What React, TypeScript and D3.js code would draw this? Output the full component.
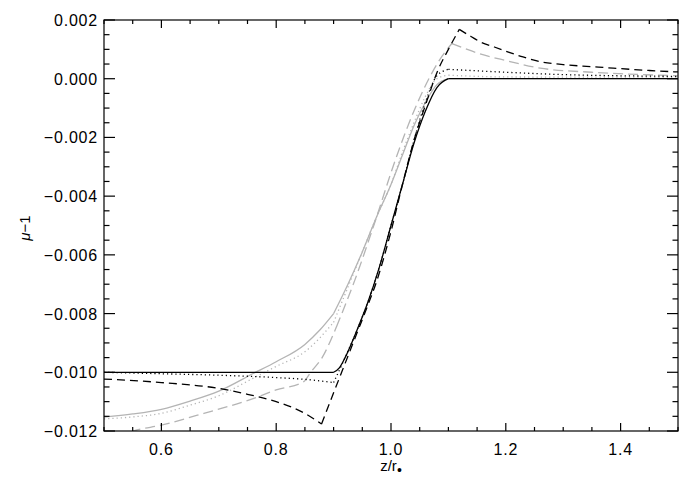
import React from 'react';
import * as d3 from 'd3';

// ---- data ----
const blackSolidX = [0.5, 0.7, 0.9, 0.91, 0.92, 0.94, 0.96, 0.98, 1.0, 1.02, 1.04, 1.06, 1.08, 1.1, 1.3, 1.5];
const blackSolidY = [-0.01, -0.01, -0.01, -0.00985, -0.0095, -0.0086, -0.0076, -0.0064, -0.005, -0.0036, -0.0022, -0.0011, -0.0003, 0.0, 0.0, 0.0];
const blackSolidKinks = [0.9, 1.1];

const blackDotX = [0.5, 0.6, 0.7, 0.8, 0.85, 0.9, 0.92, 0.94, 0.96, 0.98, 1.0, 1.02, 1.04, 1.06, 1.08, 1.1, 1.2, 1.3, 1.4, 1.5];
const blackDotY = [-0.01, -0.01005, -0.0101, -0.01018, -0.01024, -0.01035, -0.0095, -0.0086, -0.0076, -0.0064, -0.005, -0.0036, -0.0021, -0.0008, 0.0001, 0.00032, 0.00022, 0.00014, 0.0001, 0.00008];
const blackDotKinks = [0.9, 1.1];

const blackDashX = [0.5, 0.6, 0.7, 0.75, 0.8, 0.85, 0.879, 0.9, 0.914, 0.94, 0.96, 0.975, 1.0, 1.02, 1.04, 1.06, 1.082, 1.1, 1.119, 1.14, 1.155, 1.18, 1.2, 1.23, 1.26, 1.3, 1.35, 1.387, 1.45, 1.5];
const blackDashY = [-0.01023, -0.01035, -0.01055, -0.01075, -0.011, -0.0114, -0.01176, -0.0107, -0.01, -0.0087, -0.0077, -0.0069, -0.0052, -0.0036, -0.0021, -0.0009, 0.0003, 0.001, 0.00168, 0.00143, 0.00126, 0.00108, 0.00094, 0.00074, 0.00058, 0.00048, 0.00041, 0.00036, 0.00028, 0.00023];
const blackDashKinks = [0.879, 1.119];

const graySolidX = [0.5, 0.55, 0.6, 0.65, 0.7, 0.76, 0.8, 0.85, 0.876, 0.9, 0.925, 0.95, 0.975, 1.0, 1.02, 1.04, 1.06, 1.08, 1.1, 1.3, 1.5];
const graySolidY = [-0.01153, -0.01142, -0.01126, -0.01098, -0.01064, -0.01004, -0.00964, -0.00905, -0.00856, -0.008, -0.007, -0.0059, -0.0047, -0.0036, -0.0026, -0.0016, -0.0008, -0.0002, 0.0, 0.0, 0.0];
const graySolidKinks = [0.9, 1.1];

const grayDotX = [0.5, 0.55, 0.6, 0.65, 0.7, 0.76, 0.8, 0.85, 0.9, 0.925, 0.95, 0.975, 1.0, 1.02, 1.04, 1.06, 1.08, 1.1, 1.2, 1.5];
const grayDotY = [-0.01159, -0.01152, -0.0114, -0.01112, -0.0108, -0.0102, -0.0098, -0.0093, -0.0083, -0.0071, -0.0059, -0.0047, -0.0036, -0.0025, -0.0015, -0.0006, 0.0, 0.00012, 0.00006, 0.00005];
const grayDotKinks = [0.9, 1.1];

const grayDashX = [0.5, 0.549, 0.6, 0.674, 0.761, 0.8, 0.848, 0.86, 0.88, 0.905, 0.937, 0.97, 1.007, 1.04, 1.085, 1.106, 1.13, 1.15, 1.2, 1.26, 1.35, 1.4, 1.5];
const grayDashY = [-0.0125, -0.01202, -0.0118, -0.0114, -0.01089, -0.0106, -0.01032, -0.01, -0.0095, -0.00845, -0.00686, -0.005, -0.0028, -0.0011, 0.00065, 0.0012, 0.00102, 0.00088, 0.00062, 0.00036, 0.00022, 0.00017, 0.0001];
const grayDashKinks = [0.905, 1.106];

const xMajorTicks = [0.6, 0.8, 1.0, 1.2, 1.4];
const yMajorTicks = [-0.012, -0.01, -0.008, -0.006, -0.004, -0.002, 0.0, 0.002];

const W = 692;
const H = 494;
const L = 104, R = 678, T = 20, B = 431;

export default function App() {
  const x = d3.scaleLinear().domain([0.5, 1.5]).range([L, R]);
  const y = d3.scaleLinear().domain([-0.012, 0.002]).range([B, T]);
  const line = d3.line<[number, number]>().x(d => x(d[0])).y(d => y(d[1])).curve(d3.curveMonotoneX);

  // draw smooth pieces between kinks (kink point is shared by adjacent pieces)
  const mk = (xs: number[], ys: number[], kinks: number[]) => {
    const pts = xs.map((v, i) => [v, ys[i]] as [number, number]);
    const pieces: [number, number][][] = [];
    let cur: [number, number][] = [];
    pts.forEach(p => {
      cur.push(p);
      if (kinks.some(k => Math.abs(k - p[0]) < 1e-9)) {
        pieces.push(cur);
        cur = [p];
      }
    });
    if (cur.length > 1) pieces.push(cur);
    return pieces.map(pc => line(pc) || '').join('');
  };

  const series = [
    { xs: graySolidX, ys: graySolidY, k: graySolidKinks, color: '#b4b4b4', dash: undefined },
    { xs: grayDotX, ys: grayDotY, k: grayDotKinks, color: '#b4b4b4', dash: '1.2,3' },
    { xs: grayDashX, ys: grayDashY, k: grayDashKinks, color: '#b4b4b4', dash: '10,5' },
    { xs: blackSolidX, ys: blackSolidY, k: blackSolidKinks, color: '#000', dash: undefined },
    { xs: blackDotX, ys: blackDotY, k: blackDotKinks, color: '#000', dash: '1.2,3' },
    { xs: blackDashX, ys: blackDashY, k: blackDashKinks, color: '#000', dash: '8,5' },
  ];

  const xMinor = d3.range(0, 21).map(i => 0.5 + i * 0.05);
  const yMinor = d3.range(0, 29).map(i => -0.012 + i * 0.0005);
  const fy = (v: number) => d3.format('.3f')(Math.abs(v) < 1e-9 ? 0 : v);
  const fx = d3.format('.1f');
  const font = '"Liberation Sans", Arial, sans-serif';

  return (
    <svg width={W} height={H} style={{ position: 'absolute', left: 0, top: 0, background: '#fff' }}>
      <defs>
        <clipPath id="plot">
          <rect x={L} y={T} width={R - L} height={B - T} />
        </clipPath>
      </defs>
      <g clipPath="url(#plot)" fill="none" strokeLinejoin="round">
        {series.map((s, i) => (
          <path key={i} d={mk(s.xs, s.ys, s.k)} stroke={s.color} strokeWidth={1.3} strokeDasharray={s.dash} />
        ))}
      </g>
      <rect x={L} y={T} width={R - L} height={B - T} fill="none" stroke="#000" strokeWidth={1.2} />
      {xMinor.map((v, i) => {
        const major = xMajorTicks.some(m => Math.abs(m - v) < 1e-6);
        const len = major ? 8 : 4;
        return (
          <g key={'xt' + i} stroke="#000" strokeWidth={1.2}>
            <line x1={x(v)} x2={x(v)} y1={B} y2={B - len} />
            <line x1={x(v)} x2={x(v)} y1={T} y2={T + len} />
          </g>
        );
      })}
      {yMinor.map((v, i) => {
        const major = yMajorTicks.some(m => Math.abs(m - v) < 1e-9);
        const len = major ? 11 : 5.5;
        return (
          <g key={'yt' + i} stroke="#000" strokeWidth={1.2}>
            <line x1={L} x2={L + len} y1={y(v)} y2={y(v)} />
            <line x1={R} x2={R - len} y1={y(v)} y2={y(v)} />
          </g>
        );
      })}
      {xMajorTicks.map((v, i) => (
        <text key={'xl' + i} x={x(v)} y={455} textAnchor="middle" fontFamily={font} fontSize={16} letterSpacing={0.8}>
          {fx(v)}
        </text>
      ))}
      {yMajorTicks.map((v, i) => (
        <text key={'yl' + i} x={98} y={y(v) + 6} textAnchor="end" fontFamily={font} fontSize={16} letterSpacing={0.8}>
          {fy(v)}
        </text>
      ))}
      <text x={391} y={471} textAnchor="middle" fontFamily={font} fontSize={15}>
        z/r<tspan fontSize={14} dy={4}>•</tspan>
      </text>
      <text transform="translate(30,228) rotate(-90)" textAnchor="middle" fontFamily={font} fontSize={15}>
        <tspan fontStyle="italic">μ</tspan>−1
      </text>
    </svg>
  );
}
